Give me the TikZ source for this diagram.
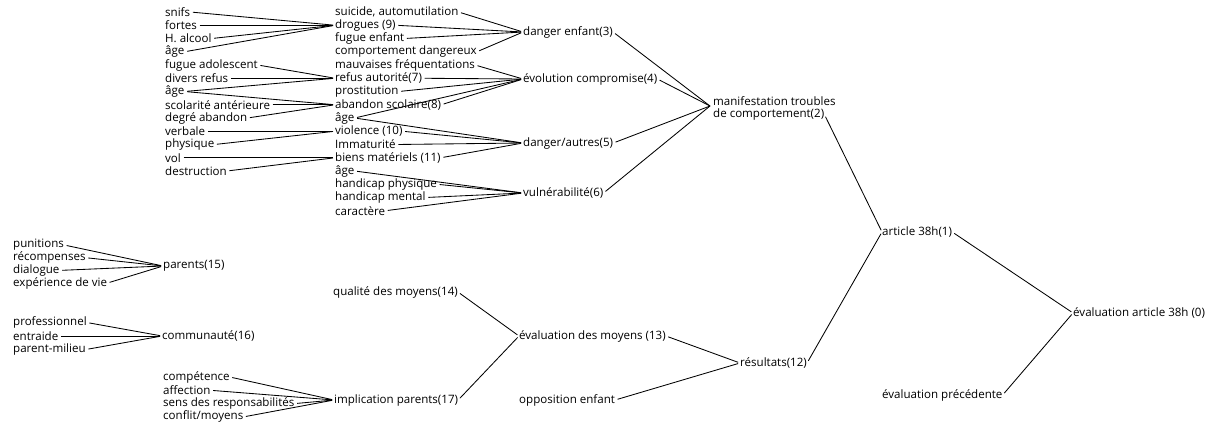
\documentclass[tikz,border=0pt]{standalone}
\usepackage{fontspec}
\setmainfont{Open Sans}
\begin{document}
\begin{tikzpicture}[x=1bp,y=-1bp,
  lbl/.style={anchor=west, inner xsep=0pt, inner ysep=1pt, font=\fontsize{11.6}{13}\selectfont},
  con/.style={line width=0.85pt, shorten <=2.5pt, shorten >=2pt}]
\useasboundingbox (0,0) rectangle (1211,425);
% column 1
\def\ra{165}
\node[lbl] (snifs)   at (\ra,12.00) {snifs};
\node[lbl] (fortes)  at (\ra,25.25) {fortes};
\node[lbl] (halcool) at (\ra,38.50) {H. alcool};
\node[lbl] (ageA)    at (\ra,51.75) {âge};
\node[lbl] (fugado)  at (\ra,65.00) {fugue adolescent};
\node[lbl] (divers)  at (\ra,78.25) {divers refus};
\node[lbl] (ageB)    at (\ra,91.50) {âge};
\node[lbl] (scol)    at (\ra,104.75) {scolarité antérieure};
\node[lbl] (degre)   at (\ra,118.00) {degré abandon};
\node[lbl] (verbale) at (\ra,131.25) {verbale};
\node[lbl] (physique) at (\ra,144.50) {physique};
\node[lbl] (vol)     at (\ra,157.75) {vol};
\node[lbl] (destr)   at (\ra,171.00) {destruction};
% column 2
\def\rb{335}
\node[lbl] (suicide) at (\rb,12.00) {suicide, automutilation};
\node[lbl] (drogues) at (\rb,25.25) {drogues (9)};
\node[lbl] (fugenf)  at (\rb,38.50) {fugue enfant};
\node[lbl] (comport) at (\rb,51.75) {comportement dangereux};
\node[lbl] (mauv)    at (\rb,65.00) {mauvaises fréquentations};
\node[lbl] (refus)   at (\rb,78.25) {refus autorité(7)};
\node[lbl] (prost)   at (\rb,91.50) {prostitution};
\node[lbl] (aband)   at (\rb,104.75) {abandon scolaire(8)};
\node[lbl] (ageC)    at (\rb,118.00) {âge};
\node[lbl] (violence) at (\rb,131.25) {violence (10)};
\node[lbl] (immat)   at (\rb,144.50) {Immaturité};
\node[lbl] (biens)   at (\rb,157.75) {biens matériels (11)};
\node[lbl] (ageD)    at (\rb,171.00) {âge};
\node[lbl] (hphys)   at (\rb,184.25) {handicap physique};
\node[lbl] (hment)   at (\rb,197.50) {handicap mental};
\node[lbl] (caract)  at (\rb,210.75) {caractère};
% column 3
\node[lbl] (dangenf) at (523,32) {danger enfant(3)};
\node[lbl] (evol)    at (523,79) {évolution compromise(4)};
\node[lbl] (dangaut) at (523,143) {danger/autres(5)};
\node[lbl] (vuln)    at (523,193) {vulnérabilité(6)};
% manifestation
\node[lbl] (manA) at (713,101) {manifestation troubles};
\node[lbl] (manB) at (713,114.5) {de comportement(2)};
\coordinate (manin) at (710,106);
% right part
\node[lbl] (article) at (882,232) {article 38h(1)};
\node[lbl] (evalart) at (1073,313) {évaluation article 38h (0)};
\node[lbl] (evalprec) at (882,395) {évaluation précédente};
% lower left
\node[lbl] (punit)  at (13,245) {punitions};
\node[lbl] (recomp) at (13,257.7) {récompenses};
\node[lbl] (dialog) at (13,270.4) {dialogue};
\node[lbl] (exper)  at (13,283.1) {expérience de vie};
\node[lbl] (parents) at (163,266) {parents(15)};
\node[lbl] (prof)   at (13,322.5) {professionnel};
\node[lbl] (entr)   at (13,336) {entraide};
\node[lbl] (parmil) at (13,349.5) {parent-milieu};
\node[lbl] (commun) at (162,336) {communauté(16)};
\node[lbl] (compet) at (163,377) {compétence};
\node[lbl] (affect) at (163,390.3) {affection};
\node[lbl] (sens)   at (163,403.6) {sens des responsabilités};
\node[lbl] (conflit) at (163,416.9) {conflit/moyens};
\node[lbl] (implic) at (334,400) {implication parents(17)};
\node[lbl] (qualite) at (333,292) {qualité des moyens(14)};
\node[lbl] (evalmoy) at (519,336) {évaluation des moyens (13)};
\node[lbl] (oppos)  at (519,400) {opposition enfant};
\node[lbl] (result) at (740,363) {résultats(12)};
% connectors col1 -> col2
\foreach \s in {snifs,fortes,halcool,ageA} \draw[con] (\s.east) -- (drogues.west);
\foreach \s in {fugado,divers,ageB} \draw[con] (\s.east) -- (refus.west);
\foreach \s in {ageB,scol,degre} \draw[con] (\s.east) -- (aband.west);
\foreach \s in {verbale,physique} \draw[con] (\s.east) -- (violence.west);
\foreach \s in {vol,destr} \draw[con] (\s.east) -- (biens.west);
% col2 -> col3
\foreach \s in {suicide,drogues,fugenf,comport} \draw[con] (\s.east) -- (dangenf.west);
\foreach \s in {mauv,refus,prost,aband,ageC} \draw[con] (\s.east) -- (evol.west);
\foreach \s in {ageC,violence,immat,biens} \draw[con] (\s.east) -- (dangaut.west);
\foreach \s in {ageD,hphys,hment,caract} \draw[con] (\s.east) -- (vuln.west);
% col3 -> manifestation
\foreach \s in {dangenf,evol,dangaut,vuln} \draw[con,shorten >=0pt] (\s.east) -- (manin);
% right
\draw[con] (manB.east) -- (article.west);
\draw[con] (result.east) -- (article.west);
\draw[con] (article.east) -- (evalart.west);
\draw[con] (evalprec.east) -- (evalart.west);
% lower
\foreach \s in {punit,recomp,dialog,exper} \draw[con] (\s.east) -- (parents.west);
\foreach \s in {prof,entr,parmil} \draw[con] (\s.east) -- (commun.west);
\foreach \s in {compet,affect,sens,conflit} \draw[con] (\s.east) -- (implic.west);
\foreach \s in {qualite,implic} \draw[con] (\s.east) -- (evalmoy.west);
\foreach \s in {evalmoy,oppos} \draw[con] (\s.east) -- (result.west);
\end{tikzpicture}
\end{document}
